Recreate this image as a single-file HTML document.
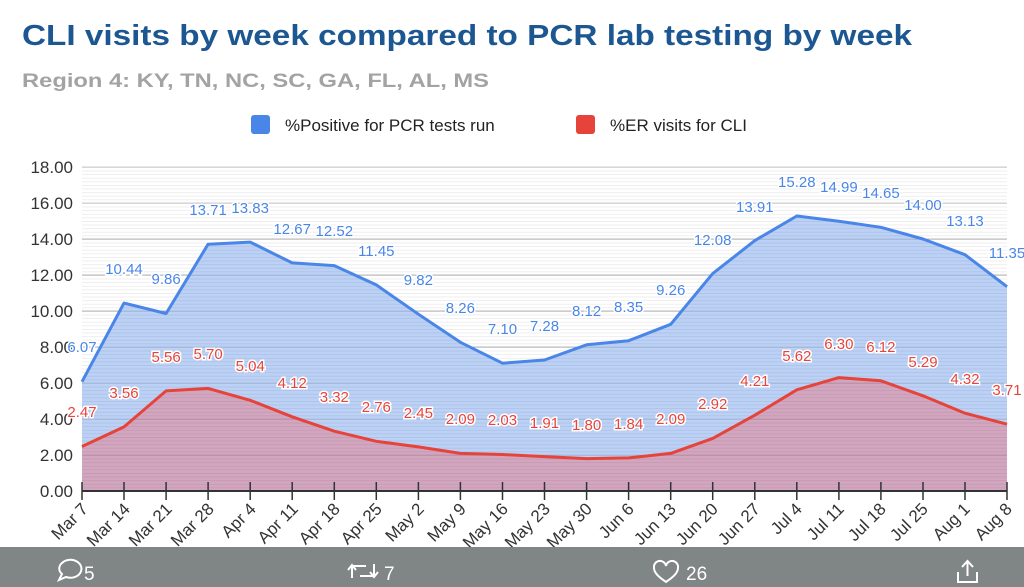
<!DOCTYPE html>
<html><head><meta charset="utf-8"><style>
html,body{margin:0;padding:0;background:#fff;width:1024px;height:587px;overflow:hidden}
svg{display:block;font-family:"Liberation Sans",Arial,sans-serif}
</style></head><body>
<svg width="1024" height="587" viewBox="0 0 1024 587">
<defs>
<pattern id="g" width="10" height="3.6" patternUnits="userSpaceOnUse" y="491"><rect width="10" height="0.8" fill="#000" opacity="0.08"/></pattern>
</defs>
<text x="22" y="45" font-size="29" font-weight="bold" fill="#1d5792" textLength="890" lengthAdjust="spacingAndGlyphs">CLI visits by week compared to PCR lab testing by week</text>
<text x="22" y="87" font-size="19" font-weight="bold" fill="#a3a3a3" textLength="467" lengthAdjust="spacingAndGlyphs">Region 4: KY, TN, NC, SC, GA, FL, AL, MS</text>
<rect x="251" y="115" width="19" height="19" rx="3" fill="#4a86e8"/>
<text x="285" y="131" font-size="17" fill="#222">%Positive for PCR tests run</text>
<rect x="576" y="115" width="19" height="19" rx="3" fill="#e6443a"/>
<text x="610" y="131" font-size="17" fill="#222">%ER visits for CLI</text>
<g stroke="#ccc" stroke-width="1">
<line x1="82" x2="1007" y1="167" y2="167"/><line x1="82" x2="1007" y1="203" y2="203"/><line x1="82" x2="1007" y1="239" y2="239"/><line x1="82" x2="1007" y1="275" y2="275"/><line x1="82" x2="1007" y1="311" y2="311"/><line x1="82" x2="1007" y1="347" y2="347"/><line x1="82" x2="1007" y1="383" y2="383"/><line x1="82" x2="1007" y1="419" y2="419"/><line x1="82" x2="1007" y1="455" y2="455"/>
</g>
<g font-size="17" fill="#333" text-anchor="end">
<text x="73" y="173">18.00</text><text x="73" y="209">16.00</text><text x="73" y="245">14.00</text><text x="73" y="281">12.00</text><text x="73" y="317">10.00</text><text x="73" y="353">8.00</text><text x="73" y="389">6.00</text><text x="73" y="425">4.00</text><text x="73" y="461">2.00</text><text x="73" y="497">0.00</text>
</g>
<polygon fill="#bcd1f6" points="82,491 82,381.7 124,303.1 166.1,313.5 208.1,244.2 250.2,242.1 292.2,262.9 334.3,265.6 376.3,284.9 418.4,314.2 460.4,342.3 502.5,363.2 544.5,360 586.6,344.8 628.6,340.7 670.7,324.3 712.7,273.6 754.8,240.6 796.8,216 838.9,221.2 880.9,227.3 923,239 965,254.7 1007,286.7 1007,491"/>
<polygon fill="#d3a6bf" points="82,491 82,446.5 124,426.9 166.1,390.9 208.1,388.4 250.2,400.3 292.2,416.8 334.3,431.2 376.3,441.3 418.4,446.9 460.4,453.4 502.5,454.5 544.5,456.6 586.6,458.6 628.6,457.9 670.7,453.4 712.7,438.4 754.8,415.2 796.8,389.8 838.9,377.6 880.9,380.8 923,395.8 965,413.2 1007,424.2 1007,491"/>
<rect x="82" y="167" width="925" height="324" fill="url(#g)"/>
<g stroke="#000" stroke-opacity="0.1" stroke-width="1">
<line x1="82" x2="1007" y1="383" y2="383"/><line x1="82" x2="1007" y1="419" y2="419"/><line x1="82" x2="1007" y1="455" y2="455"/><line x1="82" x2="1007" y1="347" y2="347"/><line x1="82" x2="1007" y1="311" y2="311"/><line x1="82" x2="1007" y1="275" y2="275"/><line x1="82" x2="1007" y1="239" y2="239"/>
</g>
<polyline fill="none" stroke="#4a86e8" stroke-width="3" stroke-linejoin="round" points="82,381.7 124,303.1 166.1,313.5 208.1,244.2 250.2,242.1 292.2,262.9 334.3,265.6 376.3,284.9 418.4,314.2 460.4,342.3 502.5,363.2 544.5,360 586.6,344.8 628.6,340.7 670.7,324.3 712.7,273.6 754.8,240.6 796.8,216 838.9,221.2 880.9,227.3 923,239 965,254.7 1007,286.7"/>
<polyline fill="none" stroke="#e6443a" stroke-width="3" stroke-linejoin="round" points="82,446.5 124,426.9 166.1,390.9 208.1,388.4 250.2,400.3 292.2,416.8 334.3,431.2 376.3,441.3 418.4,446.9 460.4,453.4 502.5,454.5 544.5,456.6 586.6,458.6 628.6,457.9 670.7,453.4 712.7,438.4 754.8,415.2 796.8,389.8 838.9,377.6 880.9,380.8 923,395.8 965,413.2 1007,424.2"/>
<line x1="82" x2="1007" y1="491" y2="491" stroke="#333" stroke-width="2"/>
<g stroke="#333" stroke-width="1.5">
<line x1="82" x2="82" y1="482" y2="500"/><line x1="124" x2="124" y1="482" y2="500"/><line x1="166.1" x2="166.1" y1="482" y2="500"/><line x1="208.1" x2="208.1" y1="482" y2="500"/><line x1="250.2" x2="250.2" y1="482" y2="500"/><line x1="292.2" x2="292.2" y1="482" y2="500"/><line x1="334.3" x2="334.3" y1="482" y2="500"/><line x1="376.3" x2="376.3" y1="482" y2="500"/><line x1="418.4" x2="418.4" y1="482" y2="500"/><line x1="460.4" x2="460.4" y1="482" y2="500"/><line x1="502.5" x2="502.5" y1="482" y2="500"/><line x1="544.5" x2="544.5" y1="482" y2="500"/><line x1="586.6" x2="586.6" y1="482" y2="500"/><line x1="628.6" x2="628.6" y1="482" y2="500"/><line x1="670.7" x2="670.7" y1="482" y2="500"/><line x1="712.7" x2="712.7" y1="482" y2="500"/><line x1="754.8" x2="754.8" y1="482" y2="500"/><line x1="796.8" x2="796.8" y1="482" y2="500"/><line x1="838.9" x2="838.9" y1="482" y2="500"/><line x1="880.9" x2="880.9" y1="482" y2="500"/><line x1="923" x2="923" y1="482" y2="500"/><line x1="965" x2="965" y1="482" y2="500"/><line x1="1007" x2="1007" y1="482" y2="500"/>
</g>
<g font-size="15" fill="#4a86e8" text-anchor="middle" stroke="#fff" stroke-width="3" paint-order="stroke">
<text x="82" y="352">6.07</text><text x="124" y="274">10.44</text><text x="166.1" y="284">9.86</text><text x="208.1" y="215">13.71</text><text x="250.2" y="213">13.83</text><text x="292.2" y="234">12.67</text><text x="334.3" y="236">12.52</text><text x="376.3" y="256">11.45</text><text x="418.4" y="285">9.82</text><text x="460.4" y="313">8.26</text><text x="502.5" y="334">7.10</text><text x="544.5" y="331">7.28</text><text x="586.6" y="316">8.12</text><text x="628.6" y="312">8.35</text><text x="670.7" y="295">9.26</text><text x="712.7" y="245">12.08</text><text x="754.8" y="212">13.91</text><text x="796.8" y="187">15.28</text><text x="838.9" y="192">14.99</text><text x="880.9" y="198">14.65</text><text x="923" y="210">14.00</text><text x="965" y="226">13.13</text><text x="1007" y="258">11.35</text>
</g>
<g font-size="15" fill="#e6443a" text-anchor="middle" stroke="#fff" stroke-width="3" paint-order="stroke">
<text x="82" y="417">2.47</text><text x="124" y="398">3.56</text><text x="166.1" y="362">5.56</text><text x="208.1" y="359">5.70</text><text x="250.2" y="371">5.04</text><text x="292.2" y="388">4.12</text><text x="334.3" y="402">3.32</text><text x="376.3" y="412">2.76</text><text x="418.4" y="418">2.45</text><text x="460.4" y="424">2.09</text><text x="502.5" y="425">2.03</text><text x="544.5" y="428">1.91</text><text x="586.6" y="430">1.80</text><text x="628.6" y="429">1.84</text><text x="670.7" y="424">2.09</text><text x="712.7" y="409">2.92</text><text x="754.8" y="386">4.21</text><text x="796.8" y="361">5.62</text><text x="838.9" y="349">6.30</text><text x="880.9" y="352">6.12</text><text x="923" y="367">5.29</text><text x="965" y="384">4.32</text><text x="1007" y="395">3.71</text>
</g>
<g font-size="17" fill="#333" text-anchor="end">
<text transform="translate(89,510) rotate(-45)">Mar 7</text><text transform="translate(131,510) rotate(-45)">Mar 14</text><text transform="translate(173,510) rotate(-45)">Mar 21</text><text transform="translate(215,510) rotate(-45)">Mar 28</text><text transform="translate(257,510) rotate(-45)">Apr 4</text><text transform="translate(299,510) rotate(-45)">Apr 11</text><text transform="translate(341,510) rotate(-45)">Apr 18</text><text transform="translate(383,510) rotate(-45)">Apr 25</text><text transform="translate(425,510) rotate(-45)">May 2</text><text transform="translate(467,510) rotate(-45)">May 9</text><text transform="translate(509,510) rotate(-45)">May 16</text><text transform="translate(551,510) rotate(-45)">May 23</text><text transform="translate(593,510) rotate(-45)">May 30</text><text transform="translate(635,510) rotate(-45)">Jun 6</text><text transform="translate(677,510) rotate(-45)">Jun 13</text><text transform="translate(719,510) rotate(-45)">Jun 20</text><text transform="translate(761,510) rotate(-45)">Jun 27</text><text transform="translate(803,510) rotate(-45)">Jul 4</text><text transform="translate(845,510) rotate(-45)">Jul 11</text><text transform="translate(887,510) rotate(-45)">Jul 18</text><text transform="translate(929,510) rotate(-45)">Jul 25</text><text transform="translate(971,510) rotate(-45)">Aug 1</text><text transform="translate(1013,510) rotate(-45)">Aug 8</text>
</g>
<rect x="0" y="547" width="1024" height="40" fill="#7c8182" fill-opacity="0.97"/>
<g fill="none" stroke="#fff" stroke-width="2">
<path d="M62 563 a11 9 0 1 1 4 14 l-7 3 l3 -6 a10 8 0 0 1 0 -11z"/>
<path d="M352 578 v-12 h14 M348 570 l4 -5 l4 5 M374 564 v12 h-14 M370 572 l4 5 l4 -5"/>
<path d="M654 568 a6 6 0 0 1 12 -2 a6 6 0 0 1 12 2 c0 6 -8 11 -12 14 c-4 -3 -12 -8 -12 -14z"/>
<path d="M958 572 v10 h19 v-10 M967.5 561 v15 M962 567 l5.5 -6 l5.5 6"/>
</g>
<g font-size="19" fill="#fff">
<text x="84" y="580">5</text><text x="384" y="580">7</text><text x="686" y="580">26</text>
</g>
</svg>
</body></html>
